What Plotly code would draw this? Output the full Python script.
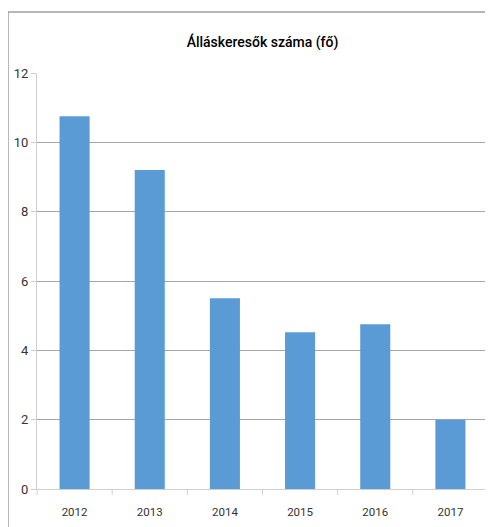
import plotly.graph_objects as go

years = ["2012", "2013", "2014", "2015", "2016", "2017"]
values = [10.75, 9.2, 5.5, 4.52, 4.75, 2.0]
y_ticks = [0, 2, 4, 6, 8, 10, 12]

FONT = "Roboto, sans-serif"

# page body has an 8px margin: figure is sized/offset to compensate
W, H = 485, 519
L, T, R, B = 29, 65, 5, 38
PW, PH = W - L - R, H - T - B

fig = go.Figure(go.Bar(x=years, y=values, marker=dict(color="#5B9BD5", line=dict(width=0))))

fig.update_layout(
    width=W, height=H,
    margin=dict(l=L, r=R, t=T, b=B),
    paper_bgcolor="white", plot_bgcolor="white",
    bargap=0.6,
    showlegend=False,
    font=dict(family=FONT, size=12, color="#404040"),
    title=dict(text="Álláskeresők száma (fő)", x=0.5, xanchor="center",
               y=1 - 34 / H, yanchor="middle", xref="paper",
               font=dict(family=FONT, size=14, color="#000000", weight=500)),
)
fig.update_yaxes(range=[0, 12], tickvals=y_ticks, showgrid=True, gridcolor="#a6a6a6", gridwidth=1,
                 showline=True, linecolor="#d0d0d0", linewidth=1, ticks="outside", ticklen=5,
                 tickcolor="#d0d0d0", zeroline=False, tickfont=dict(size=13, color="#333333"))
fig.update_xaxes(showline=True, linecolor="#d0d0d0", linewidth=1, ticks="", showgrid=False,
                 ticklabelstandoff=12, tickfont=dict(size=11.5, color="#333333"))
# category boundary tick marks on x axis
for i in range(len(years) + 1):
    xb = i / len(years)
    fig.add_shape(type="line", xref="paper", yref="paper", x0=xb, x1=xb, y0=0, y1=-6 / PH,
                  line=dict(color="#d0d0d0", width=1))
# chart outer border (left and top visible)
fig.add_shape(type="rect", xref="paper", yref="paper",
              x0=-29 / PW, x1=1.1, y0=-0.2, y1=(PH + 61) / PH,
              line=dict(color="#a0a0a0", width=1.5), layer="below")

fig.write_html("out.html")
